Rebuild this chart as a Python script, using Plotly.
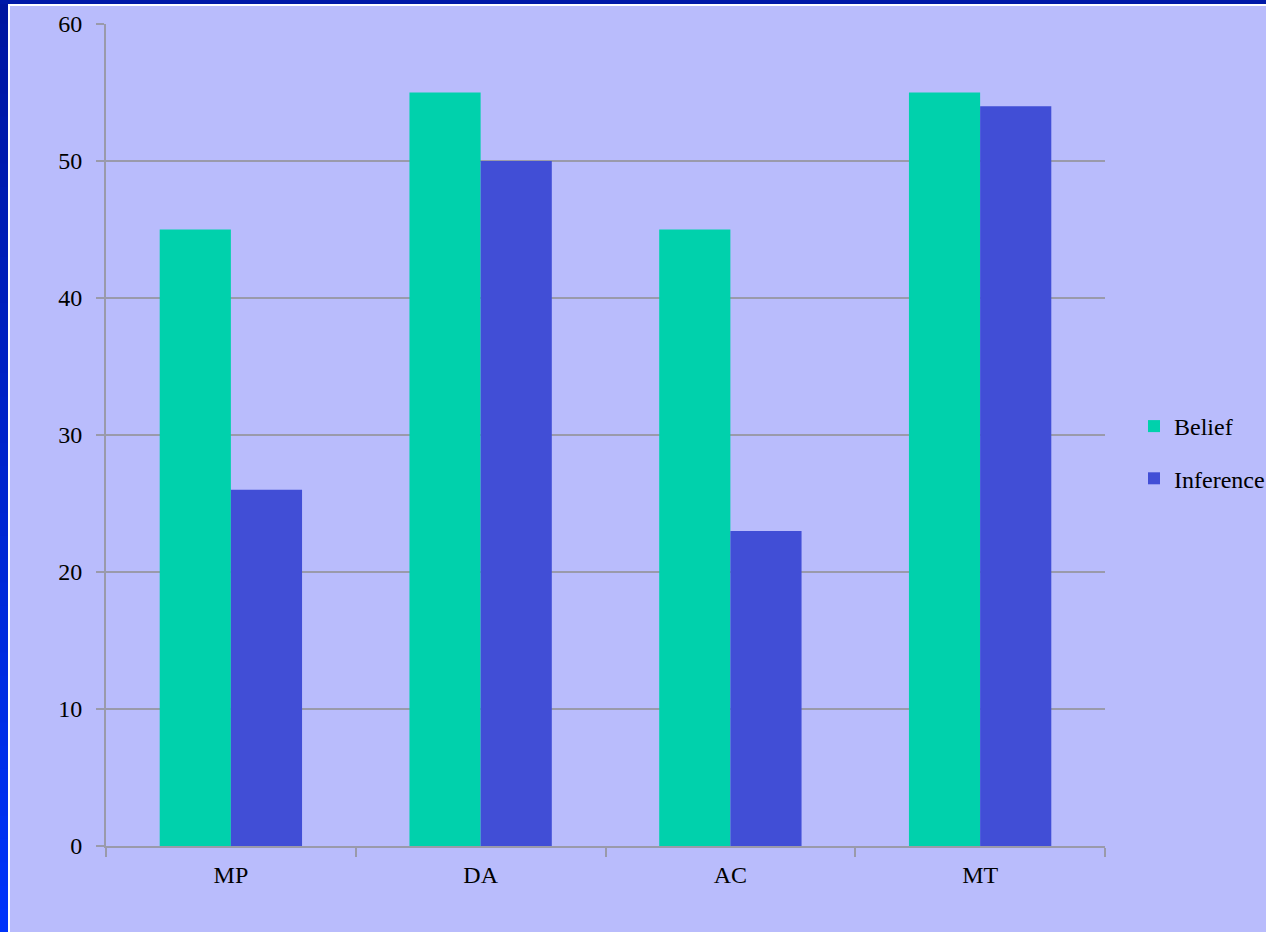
import plotly.graph_objects as go

# Data
categories = ["MP", "DA", "AC", "MT"]
belief = [45, 55, 45, 55]
inference = [26, 50, 23, 54]
y_ticks = [0, 10, 20, 30, 40, 50, 60]

W, H = 1266, 932
L, R, T, B = 106, 161, 24, 86
PW, PH = W - L - R, H - T - B

BG = "#B9BCFC"
GRID = "#9A9AAA"
FONT = "Liberation Serif, Times New Roman, serif"


def px_x(px):
    return (px - L) / PW


def px_y(py):
    return (H - B - py) / PH


fig = go.Figure()
fig.add_trace(go.Bar(name="Belief", x=categories, y=belief,
                     marker=dict(color="#00D1AC", line=dict(width=0)),
                     legendgroup="a"))
fig.add_trace(go.Bar(name="Inference", x=categories, y=inference,
                     marker=dict(color="#414ED6", line=dict(width=0)),
                     legendgroup="b"))

# Slide frame: gradient strip on the left, dark band along the top
shapes = []
n = 40
top_c = (0x00, 0x16, 0xA0)
bot_c = (0x00, 0x33, 0xFA)
for i in range(n):
    t = i / (n - 1)
    c = tuple(round(top_c[k] + (bot_c[k] - top_c[k]) * t) for k in range(3))
    y0 = H * i / n
    y1 = H * (i + 1) / n + 1
    shapes.append(dict(type="rect", xref="paper", yref="paper",
                       x0=px_x(0), x1=px_x(8), y0=px_y(y1), y1=px_y(y0),
                       fillcolor="rgb(%d,%d,%d)" % c, line=dict(width=0),
                       layer="above"))
shapes.append(dict(type="rect", xref="paper", yref="paper",
                   x0=px_x(8), x1=px_x(10), y0=px_y(H), y1=px_y(6),
                   fillcolor="white", line=dict(width=0), layer="above"))
shapes.append(dict(type="rect", xref="paper", yref="paper",
                   x0=px_x(0), x1=px_x(W), y0=px_y(4), y1=px_y(0),
                   fillcolor="#0019A8", line=dict(width=0), layer="above"))
shapes.append(dict(type="rect", xref="paper", yref="paper",
                   x0=px_x(8), x1=px_x(W), y0=px_y(6), y1=px_y(4),
                   fillcolor="white", line=dict(width=0), layer="above"))

fig.update_layout(
    width=W, height=H,
    margin=dict(l=L, r=R, t=T, b=B, autoexpand=False),
    paper_bgcolor=BG, plot_bgcolor=BG,
    barmode="group", bargap=0.43, bargroupgap=0,
    font=dict(family=FONT, size=24, color="black"),
    showlegend=True,
    legend=dict(x=px_x(1134), y=px_y(404), xanchor="left", yanchor="top",
                bgcolor="rgba(0,0,0,0)", font=dict(family=FONT, size=24),
                traceorder="grouped", tracegroupgap=18,
                itemwidth=30),
    shapes=shapes,
)
fig.update_xaxes(
    showline=True, linecolor=GRID, linewidth=2,
    ticks="outside", tickson="boundaries", ticklen=9, tickwidth=2,
    tickcolor=GRID, showgrid=False, ticklabelstandoff=6,
    tickfont=dict(family=FONT, size=24),
)
fig.update_yaxes(
    range=[0, 60], tickvals=y_ticks,
    showline=True, linecolor=GRID, linewidth=2,
    ticks="outside", ticklen=8, tickwidth=2, tickcolor=GRID,
    showgrid=True, gridcolor=GRID, gridwidth=2,
    zeroline=False, ticklabelstandoff=9,
    tickfont=dict(family=FONT, size=24),
)

fig.write_html("out.html")
